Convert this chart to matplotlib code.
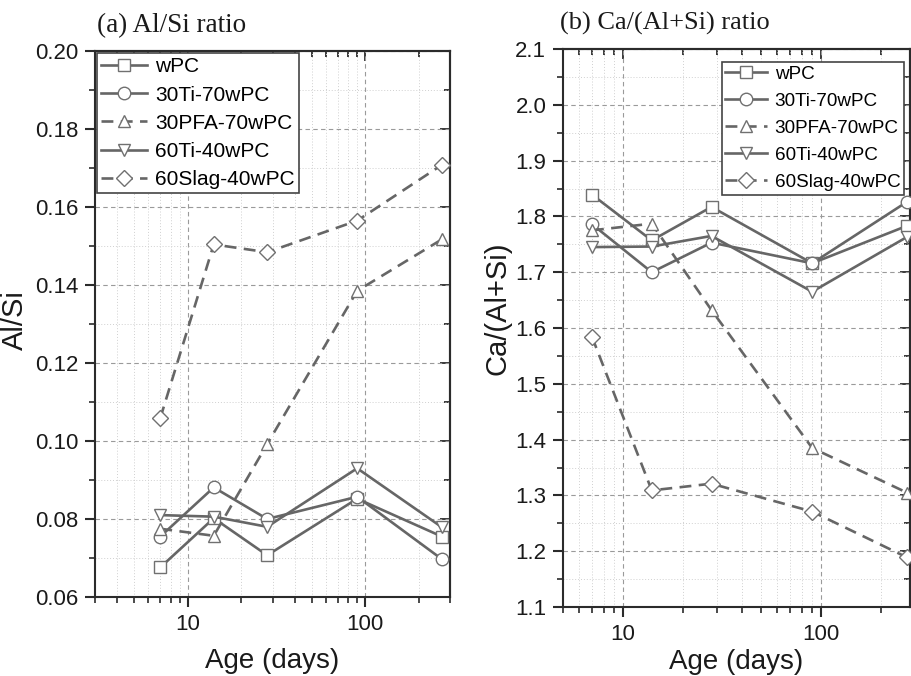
import numpy as np
import matplotlib
matplotlib.use("Agg")
import matplotlib.pyplot as plt
from matplotlib.ticker import LogLocator, MultipleLocator, NullFormatter, FixedLocator

plt.rcParams['font.family'] = ['Liberation Sans', 'DejaVu Sans']

# ages (days)
ages = [7, 14, 28, 90, 270]

labels = ['wPC', '30Ti-70wPC', '30PFA-70wPC', '60Ti-40wPC', '60Slag-40wPC']
markers = ['s', 'o', '^', 'v', 'D']
dashed = [False, False, True, False, True]

# (a) Al/Si
al_si_wpc = [0.0676, 0.0802, 0.0707, 0.0852, 0.0755]
al_si_30ti = [0.0755, 0.0881, 0.0800, 0.0857, 0.0697]
al_si_30pfa = [0.0775, 0.0757, 0.0992, 0.1385, 0.1517]
al_si_60ti = [0.0810, 0.0806, 0.0780, 0.0930, 0.0779]
al_si_60slag = [0.1059, 0.1504, 0.1484, 0.1565, 0.1708]

# (b) Ca/(Al+Si)
ca_alsi_wpc = [1.839, 1.757, 1.817, 1.716, 1.783]
ca_alsi_30ti = [1.786, 1.700, 1.753, 1.716, 1.826]
ca_alsi_30pfa = [1.775, 1.787, 1.632, 1.385, 1.305]
ca_alsi_60ti = [1.745, 1.746, 1.765, 1.665, 1.763]
ca_alsi_60slag = [1.584, 1.309, 1.321, 1.271, 1.189]

panel_a = [al_si_wpc, al_si_30ti, al_si_30pfa, al_si_60ti, al_si_60slag]
panel_b = [ca_alsi_wpc, ca_alsi_30ti, ca_alsi_30pfa, ca_alsi_60ti, ca_alsi_60slag]

LINE = '#666666'
EDGE = '#707070'
SPINE = '#2b2b2b'

W, H = 911, 676
fig = plt.figure(figsize=(W / 100, H / 100), dpi=100)


def px_axes(x0, y0, x1, y1):
    return fig.add_axes([x0 / W, 1 - y1 / H, (x1 - x0) / W, (y1 - y0) / H])


def style_axes(ax, xlim, ylim, ymajor, yminor):
    ax.set_xscale('log')
    ax.set_xlim(*xlim)
    ax.set_ylim(*ylim)
    ax.xaxis.set_major_locator(FixedLocator([10, 100]))
    ax.xaxis.set_major_formatter(matplotlib.ticker.FixedFormatter(['10', '100']))
    ax.xaxis.set_minor_locator(LogLocator(base=10, subs=np.arange(2, 10)))
    ax.xaxis.set_minor_formatter(NullFormatter())
    ax.yaxis.set_major_locator(MultipleLocator(ymajor))
    ax.yaxis.set_minor_locator(MultipleLocator(yminor))
    ax.grid(True, which='major', ls=(0, (4, 3)), color='#9a9a9a', lw=0.8)
    ax.grid(True, which='minor', ls=(0, (1, 2)), color='#d0d0d0', lw=0.7)
    ax.set_axisbelow(True)
    for s in ax.spines.values():
        s.set_color(SPINE)
        s.set_linewidth(1.5)
    ax.tick_params(which='major', direction='out', length=7, width=1.5,
                   color=SPINE, labelsize=16, pad=5, labelcolor='#1a1a1a')
    ax.tick_params(which='minor', direction='out', length=4, width=1.2, color=SPINE)
    # mirrored ticks, pointing in
    top = ax.secondary_xaxis('top')
    top.xaxis.set_major_locator(FixedLocator([10, 100]))
    top.xaxis.set_minor_locator(LogLocator(base=10, subs=np.arange(2, 10)))
    top.xaxis.set_minor_formatter(NullFormatter())
    top.tick_params(which='both', direction='in', labeltop=False, color=SPINE, width=1.3)
    top.tick_params(which='major', length=7)
    top.tick_params(which='minor', length=4)
    top.spines['top'].set_linewidth(1.5)
    top.spines['top'].set_color(SPINE)
    right = ax.secondary_yaxis('right')
    right.yaxis.set_major_locator(MultipleLocator(ymajor))
    right.yaxis.set_minor_locator(MultipleLocator(yminor))
    right.tick_params(which='both', direction='in', labelright=False, color=SPINE, width=1.3)
    right.tick_params(which='major', length=7)
    right.tick_params(which='minor', length=4)
    right.spines['right'].set_linewidth(1.5)
    right.spines['right'].set_color(SPINE)


def draw_series(ax, series):
    for vals, lab, m, d in zip(series, labels, markers, dashed):
        ms = 8 if m == 'D' else 9
        ax.plot(ages, vals, color=LINE, lw=1.9,
                ls=(0, (4.5, 2.8)) if d else '-',
                marker=m, ms=ms, mfc='white', mec=EDGE, mew=1.0,
                label=lab, clip_on=False, zorder=3)


# (a)
ax1 = px_axes(95, 51, 450, 597)
style_axes(ax1, (3, 300), (0.06, 0.20), 0.02, 0.01)
ax1.yaxis.set_major_formatter(matplotlib.ticker.FormatStrFormatter('%.2f'))
draw_series(ax1, panel_a)
ax1.set_xlabel('Age (days)', fontsize=20, color='#1a1a1a')
ax1.set_ylabel('Al/Si', fontsize=21, color='#1a1a1a')
ax1.xaxis.set_label_coords(0.5, -0.094)
ax1.yaxis.set_label_coords(-0.185, 0.507)
leg1 = ax1.legend(loc='upper left', bbox_to_anchor=(0.006, 0.996), fontsize=15,
                  frameon=True, fancybox=False, framealpha=1, edgecolor='#444444',
                  handlelength=2.2, handletextpad=0.4, labelspacing=0.44,
                  borderpad=0.2, borderaxespad=0.0)
leg1.get_frame().set_linewidth(1.2)

# (b)
ax2 = px_axes(563, 49, 910, 607)
style_axes(ax2, (5, 280), (1.1, 2.1), 0.1, 0.05)
ax2.yaxis.set_major_formatter(matplotlib.ticker.FormatStrFormatter('%.1f'))
draw_series(ax2, panel_b)
ax2.set_xlabel('Age (days)', fontsize=20, color='#1a1a1a')
ax2.set_ylabel('Ca/(Al+Si)', fontsize=21, color='#1a1a1a')
ax2.xaxis.set_label_coords(0.5, -0.075)
ax2.yaxis.set_label_coords(-0.147, 0.536)
leg2 = ax2.legend(loc='upper right', bbox_to_anchor=(0.983, 0.977), fontsize=13.6,
                  frameon=True, fancybox=False, framealpha=1, edgecolor='#444444',
                  handlelength=2.2, handletextpad=0.4, labelspacing=0.52,
                  borderpad=0.2, borderaxespad=0.0)
leg2.get_frame().set_linewidth(1.2)

fig.text(97 / W, 1 - 26 / H, '(a) Al/Si ratio', fontsize=19.5, va='center', ha='left',
         family=['Liberation Serif', 'DejaVu Serif'], color='#1a1a1a')
fig.text(560 / W, 1 - 23 / H, '(b) Ca/(Al+Si) ratio', fontsize=19, va='center', ha='left',
         family=['Liberation Serif', 'DejaVu Serif'], color='#1a1a1a')

fig.savefig('out.png', dpi=100)
